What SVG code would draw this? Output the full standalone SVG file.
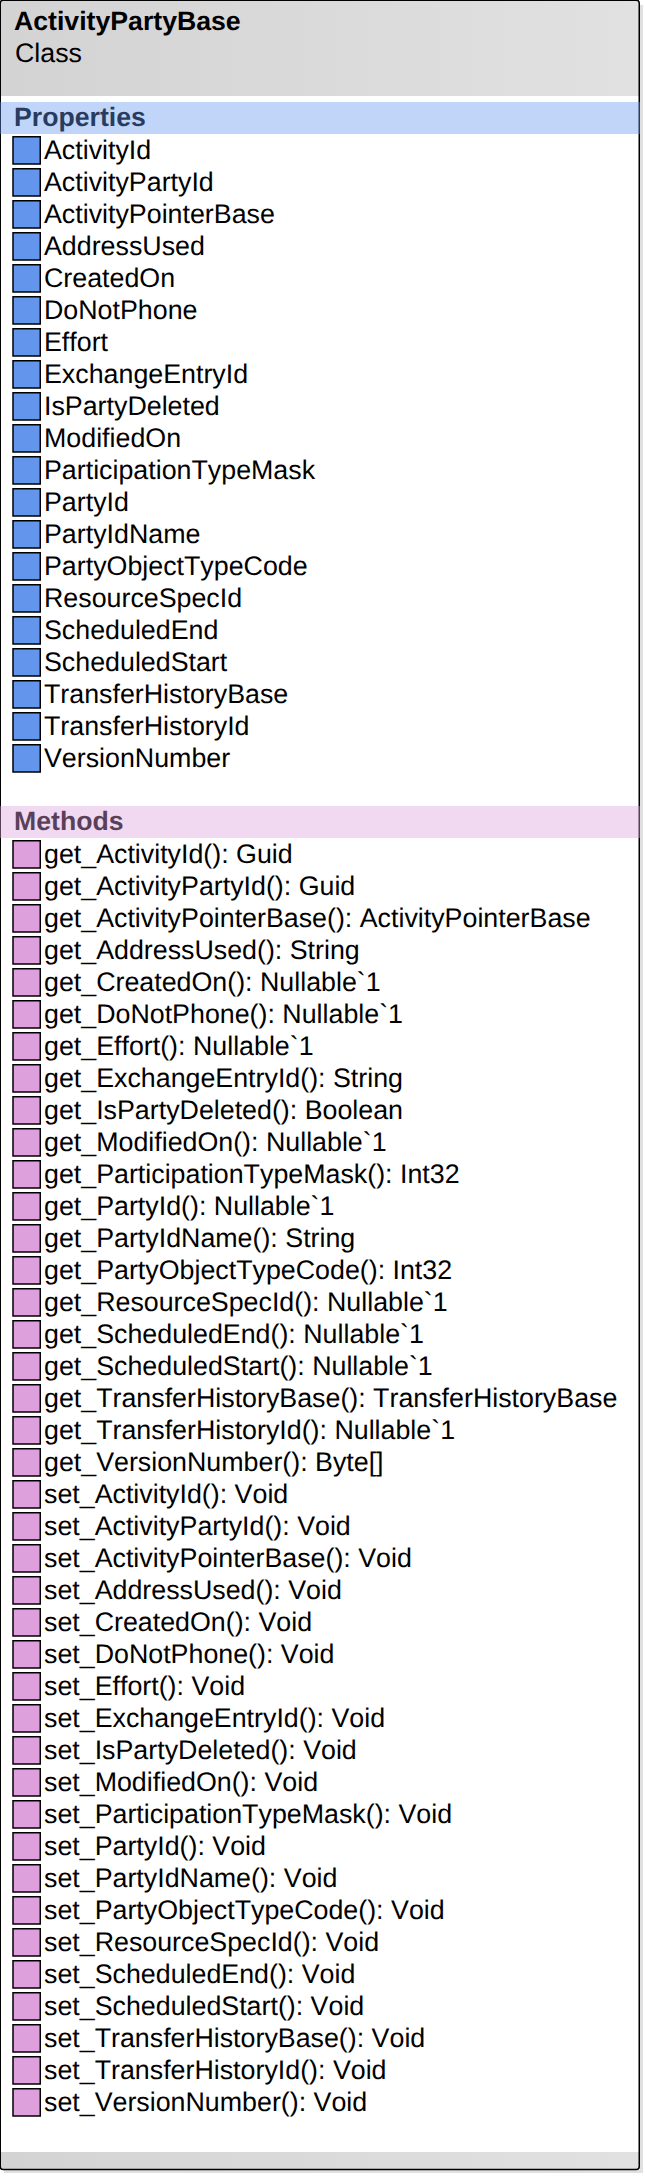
<svg xmlns="http://www.w3.org/2000/svg" width="646" height="2176" viewBox="0 0 646 2176">
<style>
text{font-family:"Liberation Sans",Arial,sans-serif;font-size:26.8px;fill:#000;font-kerning:none;text-rendering:geometricPrecision}
.h{font-weight:bold;font-size:26.67px}
.p{fill:#6495ED;stroke:#000;stroke-width:1.5}
.m{fill:#DDA0DD;stroke:#000;stroke-width:1.5}
</style>
<defs>
<linearGradient id="g" x1="0" y1="0" x2="1" y2="0"><stop offset="0" stop-color="#D3D3D3"/><stop offset="1" stop-color="#E1E1E1"/></linearGradient>
<rect id="pi" class="p" width="27.25" height="27.25"/>
<rect id="mi" class="m" width="27.25" height="27.25"/>
</defs>
<rect width="646" height="2176" fill="#fff"/>
<g id="ActivityPartyBase">
<path d="M643 5V2173H4V2170H640V5Z" fill="#E0E0E0"/>
<rect x="0.5" y="0.5" width="639" height="2169" rx="3" fill="#fff"/>
<path d="M1 96V4Q1 1 4 1H636Q639 1 639 4V96Z" fill="url(#g)"/>
<path d="M1 2152V2166Q1 2169 4 2169H636Q639 2169 639 2166V2152Z" fill="url(#g)"/>
<rect x="0.25" y="0.25" width="639" height="2169.25" rx="3" fill="none" stroke="#000" stroke-width="1.5"/>
<text class="h" x="14" y="30">ActivityPartyBase</text>
<text x="15" y="62">Class</text>
<text class="h" x="14" y="126">Properties</text>
<text class="h" x="14" y="830">Methods</text>
<rect x="0" y="102" width="640" height="32" fill="#6495ED" fill-opacity="0.4"/>
<rect x="0" y="806" width="640" height="32" fill="#DDA0DD" fill-opacity="0.4"/>
<g id="properties">
<use href="#pi" x="13" y="136.75"/><text x="44" y="158.5">ActivityId</text>
<use href="#pi" x="13" y="168.75"/><text x="44" y="190.5">ActivityPartyId</text>
<use href="#pi" x="13" y="200.75"/><text x="44" y="222.5">ActivityPointerBase</text>
<use href="#pi" x="13" y="232.75"/><text x="44" y="254.5">AddressUsed</text>
<use href="#pi" x="13" y="264.75"/><text x="44" y="286.5">CreatedOn</text>
<use href="#pi" x="13" y="296.75"/><text x="44" y="318.5">DoNotPhone</text>
<use href="#pi" x="13" y="328.75"/><text x="44" y="350.5">Effort</text>
<use href="#pi" x="13" y="360.75"/><text x="44" y="382.5">ExchangeEntryId</text>
<use href="#pi" x="13" y="392.75"/><text x="44" y="414.5">IsPartyDeleted</text>
<use href="#pi" x="13" y="424.75"/><text x="44" y="446.5">ModifiedOn</text>
<use href="#pi" x="13" y="456.75"/><text x="44" y="478.5">ParticipationTypeMask</text>
<use href="#pi" x="13" y="488.75"/><text x="44" y="510.5">PartyId</text>
<use href="#pi" x="13" y="520.75"/><text x="44" y="542.5">PartyIdName</text>
<use href="#pi" x="13" y="552.75"/><text x="44" y="574.5">PartyObjectTypeCode</text>
<use href="#pi" x="13" y="584.75"/><text x="44" y="606.5">ResourceSpecId</text>
<use href="#pi" x="13" y="616.75"/><text x="44" y="638.5">ScheduledEnd</text>
<use href="#pi" x="13" y="648.75"/><text x="44" y="670.5">ScheduledStart</text>
<use href="#pi" x="13" y="680.75"/><text x="44" y="702.5">TransferHistoryBase</text>
<use href="#pi" x="13" y="712.75"/><text x="44" y="734.5">TransferHistoryId</text>
<use href="#pi" x="13" y="744.75"/><text x="44" y="766.5">VersionNumber</text>
</g>
<g id="methods">
<use href="#mi" x="13" y="840.75"/><text x="44" y="862.5">get_ActivityId(): Guid</text>
<use href="#mi" x="13" y="872.75"/><text x="44" y="894.5">get_ActivityPartyId(): Guid</text>
<use href="#mi" x="13" y="904.75"/><text x="44" y="926.5">get_ActivityPointerBase(): ActivityPointerBase</text>
<use href="#mi" x="13" y="936.75"/><text x="44" y="958.5">get_AddressUsed(): String</text>
<use href="#mi" x="13" y="968.75"/><text x="44" y="990.5">get_CreatedOn(): Nullable`1</text>
<use href="#mi" x="13" y="1000.75"/><text x="44" y="1022.5">get_DoNotPhone(): Nullable`1</text>
<use href="#mi" x="13" y="1032.75"/><text x="44" y="1054.5">get_Effort(): Nullable`1</text>
<use href="#mi" x="13" y="1064.75"/><text x="44" y="1086.5">get_ExchangeEntryId(): String</text>
<use href="#mi" x="13" y="1096.75"/><text x="44" y="1118.5">get_IsPartyDeleted(): Boolean</text>
<use href="#mi" x="13" y="1128.75"/><text x="44" y="1150.5">get_ModifiedOn(): Nullable`1</text>
<use href="#mi" x="13" y="1160.75"/><text x="44" y="1182.5">get_ParticipationTypeMask(): Int32</text>
<use href="#mi" x="13" y="1192.75"/><text x="44" y="1214.5">get_PartyId(): Nullable`1</text>
<use href="#mi" x="13" y="1224.75"/><text x="44" y="1246.5">get_PartyIdName(): String</text>
<use href="#mi" x="13" y="1256.75"/><text x="44" y="1278.5">get_PartyObjectTypeCode(): Int32</text>
<use href="#mi" x="13" y="1288.75"/><text x="44" y="1310.5">get_ResourceSpecId(): Nullable`1</text>
<use href="#mi" x="13" y="1320.75"/><text x="44" y="1342.5">get_ScheduledEnd(): Nullable`1</text>
<use href="#mi" x="13" y="1352.75"/><text x="44" y="1374.5">get_ScheduledStart(): Nullable`1</text>
<use href="#mi" x="13" y="1384.75"/><text x="44" y="1406.5">get_TransferHistoryBase(): TransferHistoryBase</text>
<use href="#mi" x="13" y="1416.75"/><text x="44" y="1438.5">get_TransferHistoryId(): Nullable`1</text>
<use href="#mi" x="13" y="1448.75"/><text x="44" y="1470.5">get_VersionNumber(): Byte[]</text>
<use href="#mi" x="13" y="1480.75"/><text x="44" y="1502.5">set_ActivityId(): Void</text>
<use href="#mi" x="13" y="1512.75"/><text x="44" y="1534.5">set_ActivityPartyId(): Void</text>
<use href="#mi" x="13" y="1544.75"/><text x="44" y="1566.5">set_ActivityPointerBase(): Void</text>
<use href="#mi" x="13" y="1576.75"/><text x="44" y="1598.5">set_AddressUsed(): Void</text>
<use href="#mi" x="13" y="1608.75"/><text x="44" y="1630.5">set_CreatedOn(): Void</text>
<use href="#mi" x="13" y="1640.75"/><text x="44" y="1662.5">set_DoNotPhone(): Void</text>
<use href="#mi" x="13" y="1672.75"/><text x="44" y="1694.5">set_Effort(): Void</text>
<use href="#mi" x="13" y="1704.75"/><text x="44" y="1726.5">set_ExchangeEntryId(): Void</text>
<use href="#mi" x="13" y="1736.75"/><text x="44" y="1758.5">set_IsPartyDeleted(): Void</text>
<use href="#mi" x="13" y="1768.75"/><text x="44" y="1790.5">set_ModifiedOn(): Void</text>
<use href="#mi" x="13" y="1800.75"/><text x="44" y="1822.5">set_ParticipationTypeMask(): Void</text>
<use href="#mi" x="13" y="1832.75"/><text x="44" y="1854.5">set_PartyId(): Void</text>
<use href="#mi" x="13" y="1864.75"/><text x="44" y="1886.5">set_PartyIdName(): Void</text>
<use href="#mi" x="13" y="1896.75"/><text x="44" y="1918.5">set_PartyObjectTypeCode(): Void</text>
<use href="#mi" x="13" y="1928.75"/><text x="44" y="1950.5">set_ResourceSpecId(): Void</text>
<use href="#mi" x="13" y="1960.75"/><text x="44" y="1982.5">set_ScheduledEnd(): Void</text>
<use href="#mi" x="13" y="1992.75"/><text x="44" y="2014.5">set_ScheduledStart(): Void</text>
<use href="#mi" x="13" y="2024.75"/><text x="44" y="2046.5">set_TransferHistoryBase(): Void</text>
<use href="#mi" x="13" y="2056.75"/><text x="44" y="2078.5">set_TransferHistoryId(): Void</text>
<use href="#mi" x="13" y="2088.75"/><text x="44" y="2110.5">set_VersionNumber(): Void</text>
</g>
</g>
<g id="connectors"/>
</svg>
